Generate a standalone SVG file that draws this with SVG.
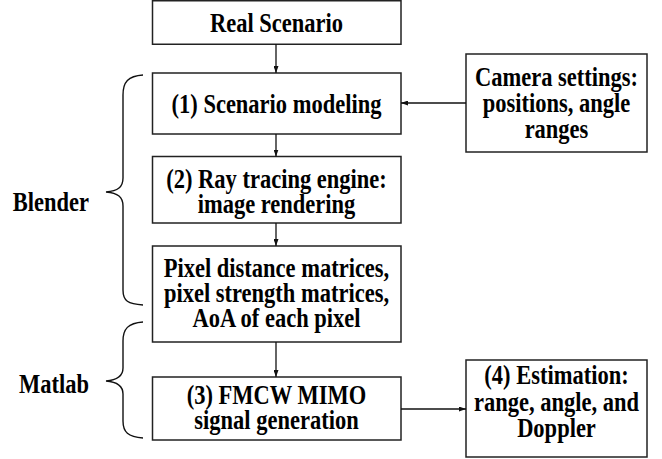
<svg xmlns="http://www.w3.org/2000/svg" width="662" height="459" viewBox="0 0 662 459">
  <style>
    .box { fill: #ffffff; stroke: #222222; stroke-width: 1.5; }
    .t { font-family: "Liberation Serif", "Times New Roman", serif; font-weight: bold; font-size: 22.5px; fill: #000000; text-anchor: middle; }
    .lbl { text-anchor: end; }
    .conn { fill: none; stroke: #111111; stroke-width: 1.3; }
    .brace { fill: none; stroke: #111111; stroke-width: 1.4; }
  </style>
  <defs>
    <marker id="ah" viewBox="0 0 7 5" refX="7" refY="2.5" markerWidth="7" markerHeight="5" markerUnits="userSpaceOnUse" orient="auto">
      <path d="M0,0 L7,2.5 L0,5 z" fill="#111111"/>
    </marker>
  </defs>
  <rect width="662" height="459" fill="#ffffff"/>

  <g id="real-scenario">
    <rect class="box" x="152.5" y="0.75" width="248.5" height="43.5"/>
    <text class="t" x="276.5" y="32" transform="matrix(1 0 0 1.2 0 -6.4)">Real Scenario</text>
  </g>

  <g id="scenario-modeling">
    <rect class="box" x="152.5" y="73" width="248.5" height="61"/>
    <text class="t" x="276.5" y="113" transform="matrix(1 0 0 1.2 0 -22.6)">(1) Scenario modeling</text>
  </g>

  <g id="camera-settings">
    <rect class="box" x="466" y="54" width="181" height="98"/>
    <text class="t" x="556.5" y="86" transform="matrix(1 0 0 1.2 0 -17.2)">Camera settings:</text>
    <text class="t" x="556.5" y="112" transform="matrix(1 0 0 1.2 0 -22.4)">positions, angle</text>
    <text class="t" x="556.5" y="138" transform="matrix(1 0 0 1.2 0 -27.6)">ranges</text>
  </g>

  <g id="ray-tracing">
    <rect class="box" x="152.5" y="156.5" width="248.5" height="66.5"/>
    <text class="t" x="276.5" y="188" transform="matrix(1 0 0 1.2 0 -37.6)">(2) Ray tracing engine:</text>
    <text class="t" x="276.5" y="213" transform="matrix(1 0 0 1.2 0 -42.6)">image rendering</text>
  </g>

  <g id="pixel-matrices">
    <rect class="box" x="152.5" y="246" width="248.5" height="96"/>
    <text class="t" x="276.5" y="277" transform="matrix(1 0 0 1.2 0 -55.4)">Pixel distance matrices,</text>
    <text class="t" x="276.5" y="302" transform="matrix(1 0 0 1.2 0 -60.4)">pixel strength matrices,</text>
    <text class="t" x="276.5" y="327" transform="matrix(1 0 0 1.2 0 -65.4)">AoA of each pixel</text>
  </g>

  <g id="fmcw-mimo">
    <rect class="box" x="152.5" y="377" width="248.5" height="63"/>
    <text class="t" x="276.5" y="404" transform="matrix(1 0 0 1.2 0 -80.8)">(3) FMCW MIMO</text>
    <text class="t" x="276.5" y="429" transform="matrix(1 0 0 1.2 0 -85.8)">signal generation</text>
  </g>

  <g id="estimation">
    <rect class="box" x="466" y="360" width="181" height="97"/>
    <text class="t" x="556.5" y="384" transform="matrix(1 0 0 1.2 0 -76.8)">(4) Estimation:</text>
    <text class="t" x="556.5" y="411" transform="matrix(1 0 0 1.2 0 -82.2)">range, angle, and</text>
    <text class="t" x="556.5" y="437" transform="matrix(1 0 0 1.2 0 -87.4)">Doppler</text>
  </g>

  <g id="blender">
    <path class="brace" d="M143,75 C128,76 123,82 123,95 L123,178 C123,187 118,191 106,192 C118,193 123,197 123,206 L123,290 C123,301 128,304 143,305"/>
    <text class="t lbl" x="89" y="211" transform="matrix(1 0 0 1.2 0 -42.2)">Blender</text>
  </g>

  <g id="matlab">
    <path class="brace" d="M143,322 C128,323 123,329 123,341 L123,368 C123,376 118,380 106,381 C118,382 123,386 123,394 L123,421 C123,432 128,437 143,438"/>
    <text class="t lbl" x="89" y="393" transform="matrix(1 0 0 1.2 0 -78.6)">Matlab</text>
  </g>

  <g id="connectors">
    <line class="conn" x1="276" y1="44" x2="276" y2="73" marker-end="url(#ah)"/>
    <line class="conn" x1="466" y1="103" x2="401" y2="103" marker-end="url(#ah)"/>
    <line class="conn" x1="276" y1="134" x2="276" y2="156.5" marker-end="url(#ah)"/>
    <line class="conn" x1="276" y1="223" x2="276" y2="246" marker-end="url(#ah)"/>
    <line class="conn" x1="276" y1="342" x2="276" y2="377" marker-end="url(#ah)"/>
    <line class="conn" x1="401" y1="409" x2="466" y2="409" marker-end="url(#ah)"/>
  </g>
</svg>
